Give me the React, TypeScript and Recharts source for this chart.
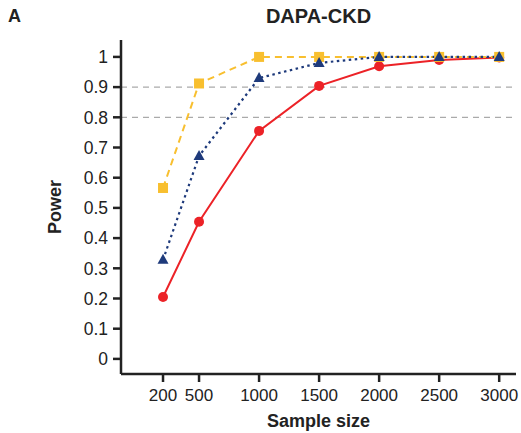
import { LineChart, Line, XAxis, YAxis, ReferenceLine } from 'recharts';

const sampleSizes = [200, 500, 1000, 1500, 2000, 2500, 3000];
const redPower = [0.205, 0.454, 0.755, 0.904, 0.969, 0.99, 0.998];
const bluePower = [0.328, 0.672, 0.93, 0.98, 1.0, 1.0, 1.0];
const yellowPower = [0.566, 0.912, 1.0, 1.0, 1.0, 1.0, 1.0];
const yTicks = [0, 0.1, 0.2, 0.3, 0.4, 0.5, 0.6, 0.7, 0.8, 0.9, 1];
const gridLevels = [0.8, 0.9];

const RED = '#ec2227';
const BLUE = '#1e3a7b';
const YELLOW = '#f8bf2f';
const FONT = '"Liberation Sans", Arial, sans-serif';

const data = sampleSizes.map((n, i) => ({
    n,
    red: redPower[i],
    blue: bluePower[i],
    yellow: yellowPower[i],
}));

const CircleDot = (props: any) => {
    const { cx, cy, key } = props;
    return <circle key={key} cx={cx} cy={cy} r={5} fill={RED} />;
};

const TriangleDot = (props: any) => {
    const { cx, cy, key } = props;
    return (
        <path
            key={key}
            d={`M${cx},${cy - 6} L${cx + 5.5},${cy + 4} L${cx - 5.5},${cy + 4} Z`}
            fill={BLUE}
        />
    );
};

const SquareDot = (props: any) => {
    const { cx, cy, key } = props;
    return <rect key={key} x={cx - 5} y={cy - 5} width={10} height={10} fill={YELLOW} />;
};

const fmtY = (v: number) => (v === 0 ? '0' : v === 1 ? '1' : v.toFixed(1));

const App = () => {
    return (
        <div style={{ position: 'relative', width: 521, height: 433, fontFamily: FONT }}>
            <style>{`body { margin: 0; }`}</style>
            <div style={{ position: 'absolute', left: 8, top: 6, fontSize: 18, fontWeight: 'bold', color: '#222' }}>A</div>
            <div
                style={{
                    position: 'absolute',
                    left: 121,
                    width: 395,
                    top: 5,
                    textAlign: 'center',
                    fontSize: 20,
                    fontWeight: 'bold',
                    color: '#222',
                }}
            >
                DAPA-CKD
            </div>
            <LineChart width={521} height={433} data={data} margin={{ top: 40, right: 5, bottom: 0, left: 0 }}>
                <XAxis
                    dataKey="n"
                    type="number"
                    domain={[-150, 3140]}
                    ticks={sampleSizes}
                    height={59}
                    tickSize={8}
                    tickMargin={7}
                    stroke="#222"
                    strokeWidth={2.5}
                    tick={{ fill: '#222', fontSize: 17, fontFamily: FONT }}
                    label={{
                        value: 'Sample size',
                        position: 'insideBottom',
                        offset: 6,
                        fill: '#222',
                        fontSize: 18,
                        fontWeight: 'bold',
                        fontFamily: FONT,
                    }}
                />
                <YAxis
                    type="number"
                    domain={[-0.05, 1.056]}
                    ticks={yTicks}
                    tickFormatter={fmtY}
                    width={121}
                    tickSize={8}
                    tickMargin={5}
                    stroke="#222"
                    strokeWidth={2.5}
                    tick={{ fill: '#222', fontSize: 17.5, fontFamily: FONT }}
                    label={{
                        value: 'Power',
                        angle: -90,
                        position: 'insideLeft',
                        offset: 55,
                        textAnchor: 'middle',
                        fill: '#222',
                        fontSize: 18,
                        fontWeight: 'bold',
                        fontFamily: FONT,
                    }}
                />
                {gridLevels.map((g) => (
                    <ReferenceLine key={g} y={g} stroke="#aaa" strokeWidth={1.2} strokeDasharray="6 5" />
                ))}
                <Line
                    type="linear"
                    dataKey="red"
                    stroke={RED}
                    strokeWidth={2}
                    dot={CircleDot}
                    activeDot={false}
                    isAnimationActive={false}
                />
                <Line
                    type="linear"
                    dataKey="yellow"
                    stroke={YELLOW}
                    strokeWidth={2}
                    strokeDasharray="7 5"
                    dot={SquareDot}
                    activeDot={false}
                    isAnimationActive={false}
                />
                <Line
                    type="linear"
                    dataKey="blue"
                    stroke={BLUE}
                    strokeWidth={2.2}
                    strokeDasharray="2.5 3.5"
                    dot={TriangleDot}
                    activeDot={false}
                    isAnimationActive={false}
                />
            </LineChart>
        </div>
    );
};

export default App;
